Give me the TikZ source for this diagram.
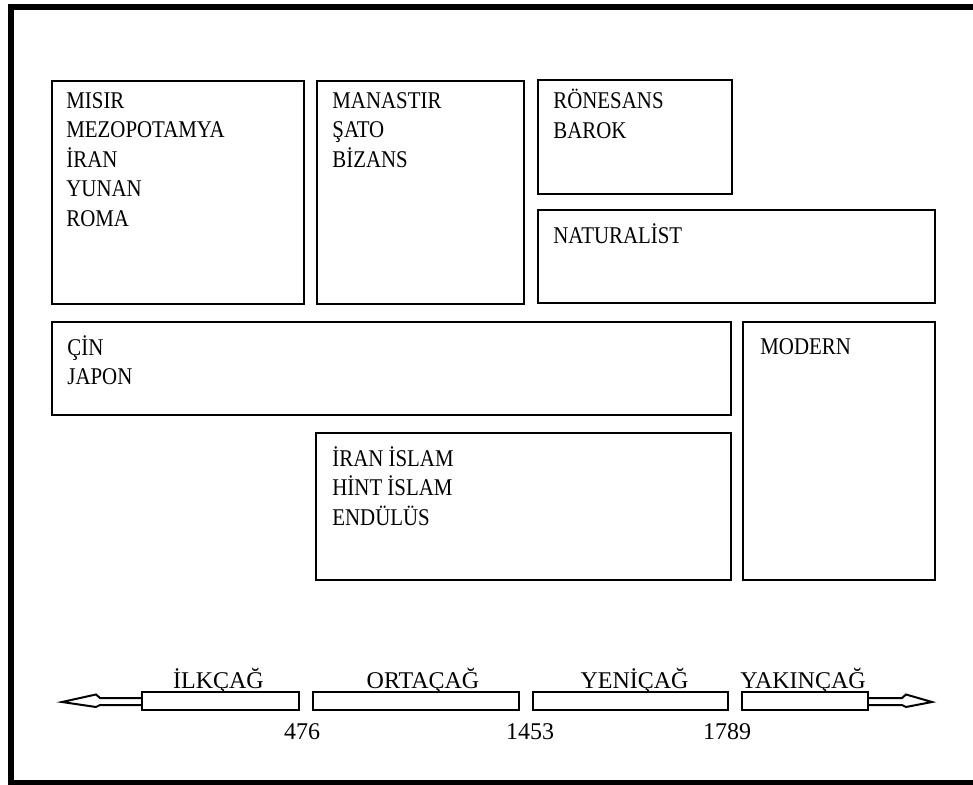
\documentclass[tikz,border=0pt]{standalone}
\usepackage{fontspec}
\setmainfont{Liberation Serif}
\newfontfamily\narrowserif{Liberation Serif}[FakeStretch=0.87]
\usepackage{tikz}
\usetikzlibrary{arrows,calc,positioning}
\tikzset{
        panel/.style = {draw, rectangle, line width=1pt,
            inner sep=0pt, anchor=north west},
        entry/.style = {align=left, inner sep=0pt,
            font=\narrowserif\fontsize{12}{14.75}\selectfont,
            execute at begin node=\strut},
        era/.style = {draw, rectangle, line width=1pt,
            minimum height=9pt, inner sep=0pt},
        eralabel/.style = {inner sep=0pt, font=\fontsize{12}{14}\selectfont, anchor=base},
        yearlabel/.style = {inner sep=0pt, font=\fontsize{12}{14}\selectfont},
        pointer/.style = {draw, line width=1pt, line join=miter},
        outerframe/.style = {draw, line width=3pt},
    }

\begin{document}
\begin{tikzpicture}[x=0.5pt, y=-0.5pt]
                        \useasboundingbox (0,0) rectangle (973,785);
                        \draw[outerframe] (990,7) -- (10.5,7) -- (10.5,782.5) -- (990,782.5);

                        % panels
                        \node[panel, minimum width=126pt, minimum height=111.5pt] (misir) at (51,80) {};
                        \node[panel, minimum width=103.5pt, minimum height=111.5pt] (manastir) at (316,80) {};
                        \node[panel, minimum width=97pt, minimum height=57pt] (ronesans) at (537,79) {};
                        \node[panel, minimum width=198.5pt, minimum height=46.5pt] (naturalist) at (537,209) {};
                        \node[panel, minimum width=339.5pt, minimum height=46.5pt] (cin) at (51,321) {};
                        \node[panel, minimum width=96pt, minimum height=129pt] (modern) at (742,321) {};
                        \node[panel, minimum width=207.5pt, minimum height=73.5pt] (islam) at (315,432) {};

                        \node[entry, below right=6pt and 7.5pt of misir.north west] (misirtext)
                              {MISIR\\MEZOPOTAMYA\\İRAN\\YUNAN\\ROMA};
                        \node[entry, below right=6pt and 8pt of manastir.north west] (manastirtext)
                              {MANASTIR\\ŞATO\\BİZANS};
                        \node[entry, below right=5pt and 8pt of ronesans.north west] (ronesanstext)
                              {RÖNESANS\\BAROK};
                        \node[entry, below right=6.5pt and 8pt of naturalist.north west] (naturalisttext)
                              {NATURALİST};
                        \node[entry, below right=7pt and 8pt of cin.north west] (cintext)
                              {ÇİN\\JAPON};
                        \node[entry, below right=6pt and 9pt of modern.north west] (moderntext)
                              {MODERN};
                        \node[entry, below right=7pt and 8.5pt of islam.north west] (islamtext)
                              {İRAN İSLAM\\HİNT İSLAM\\ENDÜLÜS};

                        % time line
                        \node[era, minimum width=78.5pt, anchor=west] (ilk) at (141,701) {};
                        \node[era, minimum width=103pt, right=6pt of ilk] (orta) {};
                        \node[era, minimum width=97.5pt, right=6pt of orta] (yeni) {};
                        \node[era, minimum width=63pt, right=6pt of yeni] (yakin) {};

                        \node[eralabel, xshift=-1pt] (ilklabel) at ([yshift=1.5pt]ilk.north) {İLKÇAĞ};
                        \node[eralabel, xshift=3.5pt] (ortalabel) at ([yshift=1.5pt]orta.north) {ORTAÇAĞ};
                        \node[eralabel, xshift=2pt] (yenilabel) at ([yshift=1.5pt]yeni.north) {YENİÇAĞ};
                        \node[eralabel, xshift=-1pt] (yakinlabel) at ([yshift=1.5pt]yakin.north) {YAKINÇAĞ};

                        \node[yearlabel, below=14pt of ilk.south east, anchor=base, xshift=1pt] (y476) {476};
                        \node[yearlabel, below=14pt of orta.south east, anchor=base, xshift=5pt] (y1453) {1453};
                        \node[yearlabel, below=14pt of yeni.south east, anchor=base, xshift=-1pt] (y1789) {1789};

                        \draw[pointer] ($(ilk.west)+(0,-3)$) -- ++(-41,0) -- ++(-4,-3.5) -- ++(-34,7.5)
                              -- ++(34,5) -- ++(4,-2) -- ++(41,0);
                        \draw[pointer] ($(yakin.east)+(0,-3)$) -- ++(33,0) -- ++(4,-3.5) -- ++(26,7.5)
                              -- ++(-26,5) -- ++(-4,-2) -- ++(-33,0);
\end{tikzpicture}
\end{document}
